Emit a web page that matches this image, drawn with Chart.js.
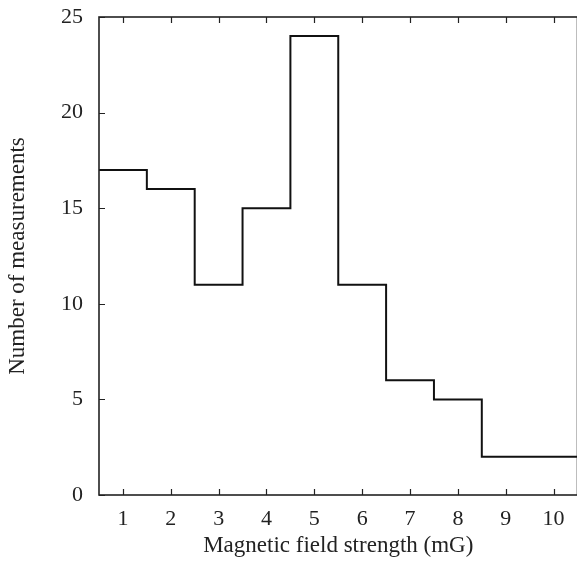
<!DOCTYPE html>
<html>
<head>
<meta charset="utf-8">
<script src="https://cdn.jsdelivr.net/npm/chart.js@4"></script>
<style>
  html, body { margin: 0; padding: 0; background: #fff; overflow: hidden; }
  #wrap { position: relative; width: 579px; height: 566px; }
</style>
</head>
<body>
<div id="wrap"><canvas id="chart"></canvas></div>
<script>
// bin edges and counts per bin (field strength in mG)
const binEdges = [0.5, 1.5, 2.5, 3.5, 4.5, 5.5, 6.5, 7.5, 8.5, 9.5, 10.5];
const counts = [17, 16, 11, 15, 24, 11, 6, 5, 2, 2];
const xTicks = [1, 2, 3, 4, 5, 6, 7, 8, 9, 10];
const yTicks = [0, 5, 10, 15, 20, 25];

const TICK_FONT = { family: '"Liberation Serif", "DejaVu Serif", serif', size: 22 };
const TITLE_FONT = { family: '"Liberation Serif", "DejaVu Serif", serif', size: 23 };

// last point repeats the final count so the last bin gets its top edge
const stepPoints = binEdges.map((x, i) => ({ x: x, y: counts[Math.min(i, counts.length - 1)] }));

// frame + inward ticks like the printed figure
const framePlugin = {
    id: 'frame',
    afterDatasetsDraw(chart) {
        const { ctx, chartArea: a, scales } = chart;
        ctx.save();
        ctx.strokeStyle = '#222';
        ctx.lineWidth = 1.6;
        ctx.strokeRect(a.left, a.top, a.right - a.left, a.bottom - a.top);
        ctx.lineWidth = 1.2;
        ctx.beginPath();
        xTicks.forEach(v => {
            const px = Math.round(scales.x.getPixelForValue(v)) + 0.5;
            ctx.moveTo(px, a.bottom); ctx.lineTo(px, a.bottom - 6);
            ctx.moveTo(px, a.top); ctx.lineTo(px, a.top + 6);
        });
        yTicks.forEach(v => {
            const py = Math.round(scales.y.getPixelForValue(v)) + 0.5;
            ctx.moveTo(a.left, py); ctx.lineTo(a.left + 6, py);
        });
        ctx.stroke();
        ctx.restore();
    }
};

new Chart(document.getElementById('chart'), {
    type: 'line',
    data: {
        datasets: [{
            data: stepPoints,
            stepped: 'before',
            borderColor: '#111',
            borderWidth: 2,
            pointRadius: 0,
            fill: false
        }]
    },
    options: {
        responsive: true,
        maintainAspectRatio: false,
        animation: false,
        layout: { padding: { top: 17, right: 1.5, left: 0, bottom: 0 } },
        plugins: { legend: { display: false }, tooltip: { enabled: false } },
        scales: {
            x: {
                type: 'linear',
                min: 0.5,
                max: 10.5,
                afterBuildTicks: s => { s.ticks = xTicks.map(v => ({ value: v })); },
                afterFit: s => { s.height = 71; s.paddingLeft = 0; s.paddingRight = 0; },
                grid: { display: false, drawTicks: false },
                border: { display: false },
                ticks: { font: TICK_FONT, color: '#222', padding: 11 },
                title: { display: true, text: 'Magnetic field strength (mG)', font: TITLE_FONT, color: '#222', padding: { top: 4, bottom: 6 } }
            },
            y: {
                min: 0,
                max: 25,
                afterBuildTicks: s => { s.ticks = yTicks.map(v => ({ value: v })); },
                afterFit: s => { s.width = 99; s.paddingTop = 0; s.paddingBottom = 0; },
                grid: { display: false, drawTicks: false },
                border: { display: false },
                ticks: { font: TICK_FONT, color: '#222', padding: 16 },
                title: { display: true, text: 'Number of measurements', font: TITLE_FONT, color: '#222', padding: { top: 4, bottom: 4 } }
            }
        }
    },
    plugins: [framePlugin]
});
</script>
</body>
</html>
